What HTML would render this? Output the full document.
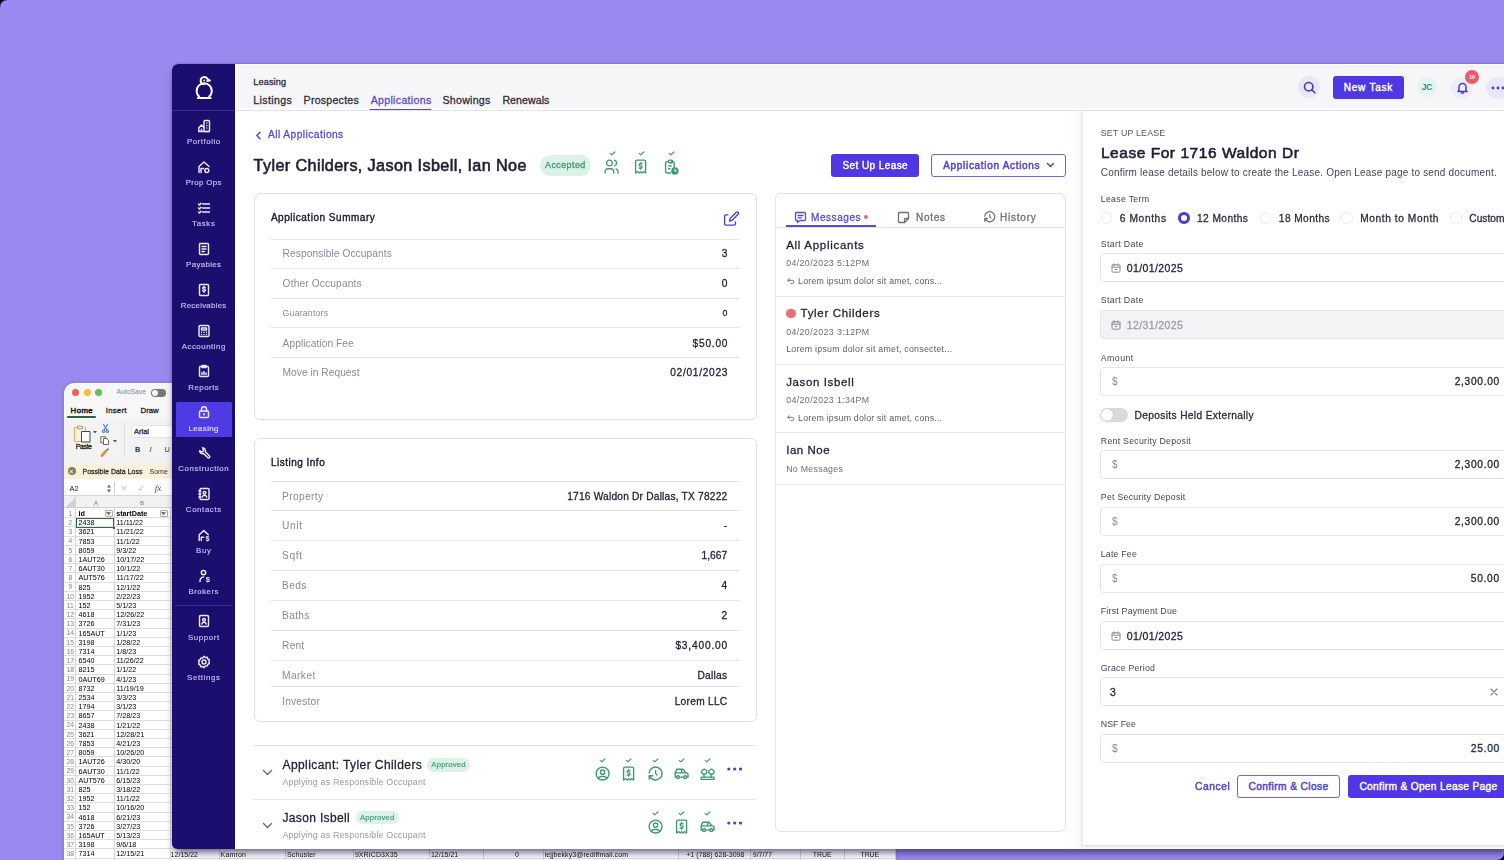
<!DOCTYPE html>
<html><head><meta charset="utf-8"><title>Leasing - Applications</title><style>
*{box-sizing:border-box;margin:0;padding:0}
html,body{width:1504px;height:860px;overflow:hidden}
body{background:#9a8af0;font-family:"Liberation Sans",sans-serif;position:relative;color:#1f1e33}
.a{position:absolute;white-space:nowrap}
.b{position:absolute}
svg{display:block}
</style></head><body><div id="root" style="position:absolute;left:0;top:0;width:1504px;height:860px;overflow:hidden;filter:blur(0.3px)"><div class="b" style="left:63.7px;top:383px;width:831.3px;height:480px;background:#fff;border-radius:10px 10px 0 0;box-shadow:0 0 3px 1px rgba(60,40,140,.18)"></div>
<div class="b" style="left:64.5px;top:383.8px;width:830px;height:35.2px;background:#f7f7f7;border-radius:9.5px 9.5px 0 0"></div>
<div class="b" style="left:71.5px;top:389px;width:7px;height:7px;background:#ec5f58;border-radius:50%"></div>
<div class="b" style="left:83.5px;top:389px;width:7px;height:7px;background:#f5bd3a;border-radius:50%"></div>
<div class="b" style="left:95.0px;top:389px;width:7px;height:7px;background:#5fc454;border-radius:50%"></div>
<div class="a " style="top:389.44px;font-size:6.8px;line-height:6.8px;color:#8a8a8a;font-weight:400;left:116.5px;">AutoSave</div>
<div class="b" style="left:151px;top:388.5px;width:15px;height:8px;background:#777;border-radius:4px"></div>
<div class="b" style="left:152px;top:389.5px;width:6px;height:6px;background:#fff;border-radius:50%"></div>
<div class="a " id="t1" style="top:406.70px;font-size:7.8px;line-height:7.8px;color:#1a1a1a;font-weight:400;-webkit-text-stroke:0.5px #1a1a1a;letter-spacing:0.434px;left:70.6px;">Home</div>
<div class="b" style="left:67px;top:416.3px;width:29px;height:1.5px;background:#2d6040;border-radius:1px"></div>
<div class="a " id="t2" style="top:406.70px;font-size:7.8px;line-height:7.8px;color:#1a1a1a;font-weight:400;-webkit-text-stroke:0.28px #1a1a1a;letter-spacing:0.219px;left:105.8px;">Insert</div>
<div class="a " style="top:406.70px;font-size:7.8px;line-height:7.8px;color:#1a1a1a;font-weight:400;-webkit-text-stroke:0.28px #1a1a1a;left:140.5px;">Draw</div>
<div class="b" style="left:64px;top:419px;width:831px;height:44px;background:#f3f3f3"></div>
<div class="b" style="left:72.5px;top:423.5px;"><svg width="18" height="19" viewBox="0 0 18 19" fill="none" stroke-linejoin="round"><path d="M3.5 3.5H1.5V17.5H9" stroke="#d9b46a" stroke-width="1.1" fill="#fbf0d8"/><path d="M4.5 2.2h5v2.6h-5z" stroke="#a08a60" stroke-width="0.9" fill="#f4f4f4"/><path d="M11.5 3.5h1v4" stroke="#d9b46a" stroke-width="1.1"/><path d="M8.5 7.5h8.5v10.5H8.5z" stroke="#444" stroke-width="1" fill="#fff"/></svg></div>
<div class="b" style="left:93px;top:431px;"><svg width="4" height="3" viewBox="0 0 4 3"><path d="M0 0h4L2 2.5z" fill="#555"/></svg></div>
<div class="a " id="t3" style="top:443.54px;font-size:6.8px;line-height:6.8px;color:#222;font-weight:400;-webkit-text-stroke:0.28px #222;letter-spacing:-0.348px;left:75.8px;">Paste</div>
<div class="b" style="left:101.5px;top:424px;"><svg width="7" height="9" viewBox="0 0 7 9" fill="none" stroke="#4a86c8" stroke-width="1.1" stroke-linecap="round"><path d="M1.5 0.5L5 6M5.5 0.5L2 6"/><circle cx="1.7" cy="7.2" r="1.2"/><circle cx="5.3" cy="7.2" r="1.2"/></svg></div>
<div class="b" style="left:100px;top:436px;"><svg width="10" height="9" viewBox="0 0 10 9" fill="none" stroke="#555" stroke-width="0.9"><path d="M0.8 0.8h4.5v6H0.8z" fill="#fff"/><path d="M3.5 2.5h3.2l1.8 1.8v4.2h-5z" fill="#fff"/></svg></div>
<div class="b" style="left:113px;top:439.6px;"><svg width="4" height="3" viewBox="0 0 4 3"><path d="M0 0h4L2 2.5z" fill="#555"/></svg></div>
<div class="b" style="left:100px;top:448.2px;"><svg width="9" height="9" viewBox="0 0 9 9" fill="none" stroke-linecap="round"><path d="M8 1L5 4" stroke="#555" stroke-width="1.2"/><path d="M5.5 3.5L2 7.5" stroke="#e09a3a" stroke-width="3"/></svg></div>
<div class="b" style="left:123.6px;top:423px;width:0.8px;height:33px;background:#dcdcdc"></div>
<div class="b" style="left:130.6px;top:425px;width:45px;height:12.5px;background:#fff;border:0.8px solid #e4e4e4;border-radius:2px"></div>
<div class="a " id="t4" style="top:428.34px;font-size:7.4px;line-height:7.4px;color:#222;font-weight:400;-webkit-text-stroke:0.28px #222;letter-spacing:0.079px;left:133.9px;">Arial</div>
<div class="a " style="top:445.54px;font-size:7.4px;line-height:7.4px;color:#333;font-weight:700;left:134.9px;">B</div>
<div class="a " style="top:445.54px;font-size:7.4px;line-height:7.4px;color:#333;font-weight:400;left:149.5px;font-style:italic">I</div>
<div class="a " style="top:445.54px;font-size:7.4px;line-height:7.4px;color:#333;font-weight:400;left:164.4px;">U</div>
<div class="b" style="left:64px;top:463px;width:831px;height:16px;background:#f9f1dc"></div>
<div class="b" style="left:68px;top:467px;width:8px;height:8px;background:#8a7a62;border-radius:50%"></div>
<div class="a " style="top:467.67px;font-size:7px;line-height:7px;color:#f9f1dc;font-weight:700;left:69.3px;">&#215;</div>
<div class="a " style="top:468.27px;font-size:7px;line-height:7px;color:#333;font-weight:400;-webkit-text-stroke:0.28px #333;left:82.5px;">Possible Data Loss</div>
<div class="a " style="top:468.27px;font-size:7px;line-height:7px;color:#333;font-weight:400;left:149.5px;">Some</div>
<div class="b" style="left:64px;top:479px;width:831px;height:17px;background:#fff;border-bottom:1px solid #d8d8d8"></div>
<div class="a " style="top:484.74px;font-size:7.4px;line-height:7.4px;color:#222;font-weight:400;left:69.5px;">A2</div>
<div class="b" style="left:106.5px;top:483.5px;"><svg width="4" height="9" viewBox="0 0 4 9"><path d="M0 3.5L2 0.5L4 3.5zM0 5.5L2 8.5L4 5.5z" fill="#666"/></svg></div>
<div class="b" style="left:113.5px;top:481px;width:0.8px;height:14px;background:#d8d8d8"></div>
<div class="a " style="top:482.99px;font-size:11px;line-height:11px;color:#c8c8c8;font-weight:400;left:120.8px;">&#215;</div>
<div class="a " style="top:483.96px;font-size:9.5px;line-height:9.5px;color:#c8c8c8;font-weight:400;left:136.8px;">&#10003;</div>
<div class="a " style="top:484.38px;font-size:9px;line-height:9px;color:#444;font-weight:400;left:154.8px;font-style:italic;font-family:Liberation Serif">fx</div>
<div class="b" style="left:64px;top:496px;width:831px;height:12px;background:#f1f1f1;border-bottom:1px solid #d0d0d0"></div>
<div class="a " style="top:499.92px;font-size:6px;line-height:6px;color:#777;font-weight:400;left:94px;">A</div>
<div class="a " style="top:499.92px;font-size:6px;line-height:6px;color:#777;font-weight:400;left:140px;">B</div>
<div class="b" style="left:75px;top:496px;width:1px;height:364px;background:#d8d8d8"></div>
<div class="b" style="left:65.5px;top:498px;"><svg width="9" height="9" viewBox="0 0 9 9"><path d="M9 0V9H0z" fill="#d0d0d0"/></svg></div>
<div class="b" style="left:64px;top:517.2px;width:831px;height:0.6px;background:#dedede"></div>
<div class="a " style="top:510.84px;font-size:6.8px;line-height:6.8px;color:#8a8a8a;font-weight:400;left:64.3px;width:12px;text-align:center;">1</div>
<div class="a " style="top:510.01px;font-size:7.2px;line-height:7.2px;color:#000;font-weight:700;left:78.4px;">id</div>
<div class="a " style="top:510.01px;font-size:7.2px;line-height:7.2px;color:#000;font-weight:700;left:116.2px;">startDate</div>
<div class="b" style="left:64px;top:526.4000000000001px;width:831px;height:0.6px;background:#dedede"></div>
<div class="a " style="top:520.04px;font-size:6.8px;line-height:6.8px;color:#8a8a8a;font-weight:400;left:64.3px;width:12px;text-align:center;">2</div>
<div class="a " style="top:519.21px;font-size:7.2px;line-height:7.2px;color:#000;font-weight:400;left:78.4px;">2438</div>
<div class="a " style="top:519.21px;font-size:7.2px;line-height:7.2px;color:#000;font-weight:400;left:116.2px;">11/11/22</div>
<div class="b" style="left:64px;top:535.6px;width:831px;height:0.6px;background:#dedede"></div>
<div class="a " style="top:529.24px;font-size:6.8px;line-height:6.8px;color:#8a8a8a;font-weight:400;left:64.3px;width:12px;text-align:center;">3</div>
<div class="a " style="top:528.41px;font-size:7.2px;line-height:7.2px;color:#000;font-weight:400;left:78.4px;">3621</div>
<div class="a " style="top:528.41px;font-size:7.2px;line-height:7.2px;color:#000;font-weight:400;left:116.2px;">11/21/22</div>
<div class="b" style="left:64px;top:544.8000000000001px;width:831px;height:0.6px;background:#dedede"></div>
<div class="a " style="top:538.44px;font-size:6.8px;line-height:6.8px;color:#8a8a8a;font-weight:400;left:64.3px;width:12px;text-align:center;">4</div>
<div class="a " style="top:537.61px;font-size:7.2px;line-height:7.2px;color:#000;font-weight:400;left:78.4px;">7853</div>
<div class="a " style="top:537.61px;font-size:7.2px;line-height:7.2px;color:#000;font-weight:400;left:116.2px;">11/1/22</div>
<div class="b" style="left:64px;top:554.0px;width:831px;height:0.6px;background:#dedede"></div>
<div class="a " style="top:547.64px;font-size:6.8px;line-height:6.8px;color:#8a8a8a;font-weight:400;left:64.3px;width:12px;text-align:center;">5</div>
<div class="a " style="top:546.81px;font-size:7.2px;line-height:7.2px;color:#000;font-weight:400;left:78.4px;">8059</div>
<div class="a " style="top:546.81px;font-size:7.2px;line-height:7.2px;color:#000;font-weight:400;left:116.2px;">9/3/22</div>
<div class="b" style="left:64px;top:563.2px;width:831px;height:0.6px;background:#dedede"></div>
<div class="a " style="top:556.84px;font-size:6.8px;line-height:6.8px;color:#8a8a8a;font-weight:400;left:64.3px;width:12px;text-align:center;">6</div>
<div class="a " style="top:556.01px;font-size:7.2px;line-height:7.2px;color:#000;font-weight:400;left:78.4px;">1AUT26</div>
<div class="a " style="top:556.01px;font-size:7.2px;line-height:7.2px;color:#000;font-weight:400;left:116.2px;">10/17/22</div>
<div class="b" style="left:64px;top:572.4000000000001px;width:831px;height:0.6px;background:#dedede"></div>
<div class="a " style="top:566.04px;font-size:6.8px;line-height:6.8px;color:#8a8a8a;font-weight:400;left:64.3px;width:12px;text-align:center;">7</div>
<div class="a " style="top:565.21px;font-size:7.2px;line-height:7.2px;color:#000;font-weight:400;left:78.4px;">6AUT30</div>
<div class="a " style="top:565.21px;font-size:7.2px;line-height:7.2px;color:#000;font-weight:400;left:116.2px;">10/1/22</div>
<div class="b" style="left:64px;top:581.6px;width:831px;height:0.6px;background:#dedede"></div>
<div class="a " style="top:575.24px;font-size:6.8px;line-height:6.8px;color:#8a8a8a;font-weight:400;left:64.3px;width:12px;text-align:center;">8</div>
<div class="a " style="top:574.41px;font-size:7.2px;line-height:7.2px;color:#000;font-weight:400;left:78.4px;">AUT576</div>
<div class="a " style="top:574.41px;font-size:7.2px;line-height:7.2px;color:#000;font-weight:400;left:116.2px;">11/17/22</div>
<div class="b" style="left:64px;top:590.8000000000001px;width:831px;height:0.6px;background:#dedede"></div>
<div class="a " style="top:584.44px;font-size:6.8px;line-height:6.8px;color:#8a8a8a;font-weight:400;left:64.3px;width:12px;text-align:center;">9</div>
<div class="a " style="top:583.61px;font-size:7.2px;line-height:7.2px;color:#000;font-weight:400;left:78.4px;">825</div>
<div class="a " style="top:583.61px;font-size:7.2px;line-height:7.2px;color:#000;font-weight:400;left:116.2px;">12/1/22</div>
<div class="b" style="left:64px;top:600.0px;width:831px;height:0.6px;background:#dedede"></div>
<div class="a " style="top:593.64px;font-size:6.8px;line-height:6.8px;color:#8a8a8a;font-weight:400;left:64.3px;width:12px;text-align:center;">10</div>
<div class="a " style="top:592.81px;font-size:7.2px;line-height:7.2px;color:#000;font-weight:400;left:78.4px;">1952</div>
<div class="a " style="top:592.81px;font-size:7.2px;line-height:7.2px;color:#000;font-weight:400;left:116.2px;">2/22/23</div>
<div class="b" style="left:64px;top:609.2px;width:831px;height:0.6px;background:#dedede"></div>
<div class="a " style="top:602.84px;font-size:6.8px;line-height:6.8px;color:#8a8a8a;font-weight:400;left:64.3px;width:12px;text-align:center;">11</div>
<div class="a " style="top:602.01px;font-size:7.2px;line-height:7.2px;color:#000;font-weight:400;left:78.4px;">152</div>
<div class="a " style="top:602.01px;font-size:7.2px;line-height:7.2px;color:#000;font-weight:400;left:116.2px;">5/1/23</div>
<div class="b" style="left:64px;top:618.4000000000001px;width:831px;height:0.6px;background:#dedede"></div>
<div class="a " style="top:612.04px;font-size:6.8px;line-height:6.8px;color:#8a8a8a;font-weight:400;left:64.3px;width:12px;text-align:center;">12</div>
<div class="a " style="top:611.21px;font-size:7.2px;line-height:7.2px;color:#000;font-weight:400;left:78.4px;">4618</div>
<div class="a " style="top:611.21px;font-size:7.2px;line-height:7.2px;color:#000;font-weight:400;left:116.2px;">12/26/22</div>
<div class="b" style="left:64px;top:627.6px;width:831px;height:0.6px;background:#dedede"></div>
<div class="a " style="top:621.24px;font-size:6.8px;line-height:6.8px;color:#8a8a8a;font-weight:400;left:64.3px;width:12px;text-align:center;">13</div>
<div class="a " style="top:620.41px;font-size:7.2px;line-height:7.2px;color:#000;font-weight:400;left:78.4px;">3726</div>
<div class="a " style="top:620.41px;font-size:7.2px;line-height:7.2px;color:#000;font-weight:400;left:116.2px;">7/31/23</div>
<div class="b" style="left:64px;top:636.8000000000001px;width:831px;height:0.6px;background:#dedede"></div>
<div class="a " style="top:630.44px;font-size:6.8px;line-height:6.8px;color:#8a8a8a;font-weight:400;left:64.3px;width:12px;text-align:center;">14</div>
<div class="a " style="top:629.61px;font-size:7.2px;line-height:7.2px;color:#000;font-weight:400;left:78.4px;">165AUT</div>
<div class="a " style="top:629.61px;font-size:7.2px;line-height:7.2px;color:#000;font-weight:400;left:116.2px;">1/1/23</div>
<div class="b" style="left:64px;top:646.0px;width:831px;height:0.6px;background:#dedede"></div>
<div class="a " style="top:639.64px;font-size:6.8px;line-height:6.8px;color:#8a8a8a;font-weight:400;left:64.3px;width:12px;text-align:center;">15</div>
<div class="a " style="top:638.81px;font-size:7.2px;line-height:7.2px;color:#000;font-weight:400;left:78.4px;">3198</div>
<div class="a " style="top:638.81px;font-size:7.2px;line-height:7.2px;color:#000;font-weight:400;left:116.2px;">1/28/22</div>
<div class="b" style="left:64px;top:655.2px;width:831px;height:0.6px;background:#dedede"></div>
<div class="a " style="top:648.84px;font-size:6.8px;line-height:6.8px;color:#8a8a8a;font-weight:400;left:64.3px;width:12px;text-align:center;">16</div>
<div class="a " style="top:648.01px;font-size:7.2px;line-height:7.2px;color:#000;font-weight:400;left:78.4px;">7314</div>
<div class="a " style="top:648.01px;font-size:7.2px;line-height:7.2px;color:#000;font-weight:400;left:116.2px;">1/8/23</div>
<div class="b" style="left:64px;top:664.4000000000001px;width:831px;height:0.6px;background:#dedede"></div>
<div class="a " style="top:658.04px;font-size:6.8px;line-height:6.8px;color:#8a8a8a;font-weight:400;left:64.3px;width:12px;text-align:center;">17</div>
<div class="a " style="top:657.21px;font-size:7.2px;line-height:7.2px;color:#000;font-weight:400;left:78.4px;">6540</div>
<div class="a " style="top:657.21px;font-size:7.2px;line-height:7.2px;color:#000;font-weight:400;left:116.2px;">11/26/22</div>
<div class="b" style="left:64px;top:673.6px;width:831px;height:0.6px;background:#dedede"></div>
<div class="a " style="top:667.24px;font-size:6.8px;line-height:6.8px;color:#8a8a8a;font-weight:400;left:64.3px;width:12px;text-align:center;">18</div>
<div class="a " style="top:666.41px;font-size:7.2px;line-height:7.2px;color:#000;font-weight:400;left:78.4px;">8215</div>
<div class="a " style="top:666.41px;font-size:7.2px;line-height:7.2px;color:#000;font-weight:400;left:116.2px;">1/1/22</div>
<div class="b" style="left:64px;top:682.8000000000001px;width:831px;height:0.6px;background:#dedede"></div>
<div class="a " style="top:676.44px;font-size:6.8px;line-height:6.8px;color:#8a8a8a;font-weight:400;left:64.3px;width:12px;text-align:center;">19</div>
<div class="a " style="top:675.61px;font-size:7.2px;line-height:7.2px;color:#000;font-weight:400;left:78.4px;">0AUT69</div>
<div class="a " style="top:675.61px;font-size:7.2px;line-height:7.2px;color:#000;font-weight:400;left:116.2px;">4/1/23</div>
<div class="b" style="left:64px;top:692.0px;width:831px;height:0.6px;background:#dedede"></div>
<div class="a " style="top:685.64px;font-size:6.8px;line-height:6.8px;color:#8a8a8a;font-weight:400;left:64.3px;width:12px;text-align:center;">20</div>
<div class="a " style="top:684.81px;font-size:7.2px;line-height:7.2px;color:#000;font-weight:400;left:78.4px;">8732</div>
<div class="a " style="top:684.81px;font-size:7.2px;line-height:7.2px;color:#000;font-weight:400;left:116.2px;">11/19/19</div>
<div class="b" style="left:64px;top:701.2px;width:831px;height:0.6px;background:#dedede"></div>
<div class="a " style="top:694.84px;font-size:6.8px;line-height:6.8px;color:#8a8a8a;font-weight:400;left:64.3px;width:12px;text-align:center;">21</div>
<div class="a " style="top:694.01px;font-size:7.2px;line-height:7.2px;color:#000;font-weight:400;left:78.4px;">2534</div>
<div class="a " style="top:694.01px;font-size:7.2px;line-height:7.2px;color:#000;font-weight:400;left:116.2px;">3/3/23</div>
<div class="b" style="left:64px;top:710.4000000000001px;width:831px;height:0.6px;background:#dedede"></div>
<div class="a " style="top:704.04px;font-size:6.8px;line-height:6.8px;color:#8a8a8a;font-weight:400;left:64.3px;width:12px;text-align:center;">22</div>
<div class="a " style="top:703.21px;font-size:7.2px;line-height:7.2px;color:#000;font-weight:400;left:78.4px;">1794</div>
<div class="a " style="top:703.21px;font-size:7.2px;line-height:7.2px;color:#000;font-weight:400;left:116.2px;">3/1/23</div>
<div class="b" style="left:64px;top:719.6px;width:831px;height:0.6px;background:#dedede"></div>
<div class="a " style="top:713.24px;font-size:6.8px;line-height:6.8px;color:#8a8a8a;font-weight:400;left:64.3px;width:12px;text-align:center;">23</div>
<div class="a " style="top:712.41px;font-size:7.2px;line-height:7.2px;color:#000;font-weight:400;left:78.4px;">8657</div>
<div class="a " style="top:712.41px;font-size:7.2px;line-height:7.2px;color:#000;font-weight:400;left:116.2px;">7/28/23</div>
<div class="b" style="left:64px;top:728.8000000000001px;width:831px;height:0.6px;background:#dedede"></div>
<div class="a " style="top:722.44px;font-size:6.8px;line-height:6.8px;color:#8a8a8a;font-weight:400;left:64.3px;width:12px;text-align:center;">24</div>
<div class="a " style="top:721.61px;font-size:7.2px;line-height:7.2px;color:#000;font-weight:400;left:78.4px;">2438</div>
<div class="a " style="top:721.61px;font-size:7.2px;line-height:7.2px;color:#000;font-weight:400;left:116.2px;">1/21/22</div>
<div class="b" style="left:64px;top:738.0px;width:831px;height:0.6px;background:#dedede"></div>
<div class="a " style="top:731.64px;font-size:6.8px;line-height:6.8px;color:#8a8a8a;font-weight:400;left:64.3px;width:12px;text-align:center;">25</div>
<div class="a " style="top:730.81px;font-size:7.2px;line-height:7.2px;color:#000;font-weight:400;left:78.4px;">3621</div>
<div class="a " style="top:730.81px;font-size:7.2px;line-height:7.2px;color:#000;font-weight:400;left:116.2px;">12/28/21</div>
<div class="b" style="left:64px;top:747.2px;width:831px;height:0.6px;background:#dedede"></div>
<div class="a " style="top:740.84px;font-size:6.8px;line-height:6.8px;color:#8a8a8a;font-weight:400;left:64.3px;width:12px;text-align:center;">26</div>
<div class="a " style="top:740.01px;font-size:7.2px;line-height:7.2px;color:#000;font-weight:400;left:78.4px;">7853</div>
<div class="a " style="top:740.01px;font-size:7.2px;line-height:7.2px;color:#000;font-weight:400;left:116.2px;">4/21/23</div>
<div class="b" style="left:64px;top:756.4000000000001px;width:831px;height:0.6px;background:#dedede"></div>
<div class="a " style="top:750.04px;font-size:6.8px;line-height:6.8px;color:#8a8a8a;font-weight:400;left:64.3px;width:12px;text-align:center;">27</div>
<div class="a " style="top:749.21px;font-size:7.2px;line-height:7.2px;color:#000;font-weight:400;left:78.4px;">8059</div>
<div class="a " style="top:749.21px;font-size:7.2px;line-height:7.2px;color:#000;font-weight:400;left:116.2px;">10/26/20</div>
<div class="b" style="left:64px;top:765.6px;width:831px;height:0.6px;background:#dedede"></div>
<div class="a " style="top:759.24px;font-size:6.8px;line-height:6.8px;color:#8a8a8a;font-weight:400;left:64.3px;width:12px;text-align:center;">28</div>
<div class="a " style="top:758.41px;font-size:7.2px;line-height:7.2px;color:#000;font-weight:400;left:78.4px;">1AUT26</div>
<div class="a " style="top:758.41px;font-size:7.2px;line-height:7.2px;color:#000;font-weight:400;left:116.2px;">4/30/20</div>
<div class="b" style="left:64px;top:774.8px;width:831px;height:0.6px;background:#dedede"></div>
<div class="a " style="top:768.44px;font-size:6.8px;line-height:6.8px;color:#8a8a8a;font-weight:400;left:64.3px;width:12px;text-align:center;">29</div>
<div class="a " style="top:767.61px;font-size:7.2px;line-height:7.2px;color:#000;font-weight:400;left:78.4px;">6AUT30</div>
<div class="a " style="top:767.61px;font-size:7.2px;line-height:7.2px;color:#000;font-weight:400;left:116.2px;">11/1/22</div>
<div class="b" style="left:64px;top:784.0px;width:831px;height:0.6px;background:#dedede"></div>
<div class="a " style="top:777.64px;font-size:6.8px;line-height:6.8px;color:#8a8a8a;font-weight:400;left:64.3px;width:12px;text-align:center;">30</div>
<div class="a " style="top:776.81px;font-size:7.2px;line-height:7.2px;color:#000;font-weight:400;left:78.4px;">AUT576</div>
<div class="a " style="top:776.81px;font-size:7.2px;line-height:7.2px;color:#000;font-weight:400;left:116.2px;">6/15/23</div>
<div class="b" style="left:64px;top:793.2px;width:831px;height:0.6px;background:#dedede"></div>
<div class="a " style="top:786.84px;font-size:6.8px;line-height:6.8px;color:#8a8a8a;font-weight:400;left:64.3px;width:12px;text-align:center;">31</div>
<div class="a " style="top:786.01px;font-size:7.2px;line-height:7.2px;color:#000;font-weight:400;left:78.4px;">825</div>
<div class="a " style="top:786.01px;font-size:7.2px;line-height:7.2px;color:#000;font-weight:400;left:116.2px;">3/18/22</div>
<div class="b" style="left:64px;top:802.4000000000001px;width:831px;height:0.6px;background:#dedede"></div>
<div class="a " style="top:796.04px;font-size:6.8px;line-height:6.8px;color:#8a8a8a;font-weight:400;left:64.3px;width:12px;text-align:center;">32</div>
<div class="a " style="top:795.21px;font-size:7.2px;line-height:7.2px;color:#000;font-weight:400;left:78.4px;">1952</div>
<div class="a " style="top:795.21px;font-size:7.2px;line-height:7.2px;color:#000;font-weight:400;left:116.2px;">11/1/22</div>
<div class="b" style="left:64px;top:811.6px;width:831px;height:0.6px;background:#dedede"></div>
<div class="a " style="top:805.24px;font-size:6.8px;line-height:6.8px;color:#8a8a8a;font-weight:400;left:64.3px;width:12px;text-align:center;">33</div>
<div class="a " style="top:804.41px;font-size:7.2px;line-height:7.2px;color:#000;font-weight:400;left:78.4px;">152</div>
<div class="a " style="top:804.41px;font-size:7.2px;line-height:7.2px;color:#000;font-weight:400;left:116.2px;">10/16/20</div>
<div class="b" style="left:64px;top:820.8px;width:831px;height:0.6px;background:#dedede"></div>
<div class="a " style="top:814.44px;font-size:6.8px;line-height:6.8px;color:#8a8a8a;font-weight:400;left:64.3px;width:12px;text-align:center;">34</div>
<div class="a " style="top:813.61px;font-size:7.2px;line-height:7.2px;color:#000;font-weight:400;left:78.4px;">4618</div>
<div class="a " style="top:813.61px;font-size:7.2px;line-height:7.2px;color:#000;font-weight:400;left:116.2px;">6/21/23</div>
<div class="b" style="left:64px;top:830.0px;width:831px;height:0.6px;background:#dedede"></div>
<div class="a " style="top:823.64px;font-size:6.8px;line-height:6.8px;color:#8a8a8a;font-weight:400;left:64.3px;width:12px;text-align:center;">35</div>
<div class="a " style="top:822.81px;font-size:7.2px;line-height:7.2px;color:#000;font-weight:400;left:78.4px;">3726</div>
<div class="a " style="top:822.81px;font-size:7.2px;line-height:7.2px;color:#000;font-weight:400;left:116.2px;">3/27/23</div>
<div class="b" style="left:64px;top:839.2px;width:831px;height:0.6px;background:#dedede"></div>
<div class="a " style="top:832.84px;font-size:6.8px;line-height:6.8px;color:#8a8a8a;font-weight:400;left:64.3px;width:12px;text-align:center;">36</div>
<div class="a " style="top:832.01px;font-size:7.2px;line-height:7.2px;color:#000;font-weight:400;left:78.4px;">165AUT</div>
<div class="a " style="top:832.01px;font-size:7.2px;line-height:7.2px;color:#000;font-weight:400;left:116.2px;">5/13/23</div>
<div class="b" style="left:64px;top:848.4000000000001px;width:831px;height:0.6px;background:#dedede"></div>
<div class="a " style="top:842.04px;font-size:6.8px;line-height:6.8px;color:#8a8a8a;font-weight:400;left:64.3px;width:12px;text-align:center;">37</div>
<div class="a " style="top:841.21px;font-size:7.2px;line-height:7.2px;color:#000;font-weight:400;left:78.4px;">3198</div>
<div class="a " style="top:841.21px;font-size:7.2px;line-height:7.2px;color:#000;font-weight:400;left:116.2px;">9/6/18</div>
<div class="b" style="left:64px;top:857.6px;width:831px;height:0.6px;background:#dedede"></div>
<div class="a " style="top:851.24px;font-size:6.8px;line-height:6.8px;color:#8a8a8a;font-weight:400;left:64.3px;width:12px;text-align:center;">38</div>
<div class="a " style="top:850.41px;font-size:7.2px;line-height:7.2px;color:#000;font-weight:400;left:78.4px;">7314</div>
<div class="a " style="top:850.41px;font-size:7.2px;line-height:7.2px;color:#000;font-weight:400;left:116.2px;">12/15/21</div>
<div class="b" style="left:113.5px;top:508px;width:0.7px;height:352px;background:#d6d6d6"></div>
<div class="b" style="left:169.5px;top:508px;width:0.7px;height:352px;background:#d6d6d6"></div>
<div class="b" style="left:104.5px;top:509.8px;width:8px;height:7.6px;background:#f6f6f6;border:0.8px solid #b0b0b0;border-radius:1px"></div>
<div class="b" style="left:106.3px;top:512px;"><svg width="5" height="3.5" viewBox="0 0 5 3.5"><path d="M0 0h5L2.5 3.5z" fill="#777"/></svg></div>
<div class="b" style="left:159.5px;top:509.8px;width:8px;height:7.6px;background:#f6f6f6;border:0.8px solid #b0b0b0;border-radius:1px"></div>
<div class="b" style="left:161.3px;top:512px;"><svg width="5" height="3.5" viewBox="0 0 5 3.5"><path d="M0 0h5L2.5 3.5z" fill="#777"/></svg></div>
<div class="b" style="left:76px;top:518px;width:38px;height:10px;border:1.3px solid #2a6e48"></div>
<div class="b" style="left:112.8px;top:526.8px;width:2.5px;height:2.5px;background:#2a6e48"></div>
<div class="a " id="t5" style="top:850.67px;font-size:7px;line-height:7px;color:#111;font-weight:400;letter-spacing:0.020px;left:170.6px;">12/15/22</div>
<div class="a " id="t6" style="top:850.67px;font-size:7px;line-height:7px;color:#111;font-weight:400;letter-spacing:0.157px;left:220.6px;">Kamron</div>
<div class="a " id="t7" style="top:850.67px;font-size:7px;line-height:7px;color:#111;font-weight:400;letter-spacing:0.137px;left:287px;">Schuster</div>
<div class="a " id="t8" style="top:850.67px;font-size:7px;line-height:7px;color:#111;font-weight:400;letter-spacing:0.075px;left:354.9px;">9XRICD3X35</div>
<div class="a " id="t9" style="top:850.67px;font-size:7px;line-height:7px;color:#111;font-weight:400;letter-spacing:0.007px;left:430.9px;">12/15/21</div>
<div class="a " style="top:850.67px;font-size:7px;line-height:7px;color:#111;font-weight:400;left:514.9px;">0</div>
<div class="a " id="t10" style="top:850.67px;font-size:7px;line-height:7px;color:#111;font-weight:400;letter-spacing:0.084px;left:544.7px;">iejjbekky3@rediffmail.com</div>
<div class="a " id="t11" style="top:850.67px;font-size:7px;line-height:7px;color:#111;font-weight:400;letter-spacing:0.024px;left:686.2px;">+1 (788) 628-3098</div>
<div class="a " id="t12" style="top:850.67px;font-size:7px;line-height:7px;color:#111;font-weight:400;letter-spacing:-0.033px;left:752.8px;">9/7/77</div>
<div class="a " id="t13" style="top:850.67px;font-size:7px;line-height:7px;color:#111;font-weight:400;letter-spacing:-0.054px;left:812.8px;">TRUE</div>
<div class="a " id="t14" style="top:850.67px;font-size:7px;line-height:7px;color:#111;font-weight:400;letter-spacing:-0.190px;left:860.6px;">TRUE</div>
<div class="b" style="left:219px;top:849px;width:0.7px;height:11px;background:#d6d6d6"></div>
<div class="b" style="left:285px;top:849px;width:0.7px;height:11px;background:#d6d6d6"></div>
<div class="b" style="left:352.5px;top:849px;width:0.7px;height:11px;background:#d6d6d6"></div>
<div class="b" style="left:428.5px;top:849px;width:0.7px;height:11px;background:#d6d6d6"></div>
<div class="b" style="left:483px;top:849px;width:0.7px;height:11px;background:#d6d6d6"></div>
<div class="b" style="left:542.5px;top:849px;width:0.7px;height:11px;background:#d6d6d6"></div>
<div class="b" style="left:677.7px;top:849px;width:0.7px;height:11px;background:#d6d6d6"></div>
<div class="b" style="left:750px;top:849px;width:0.7px;height:11px;background:#d6d6d6"></div>
<div class="b" style="left:800px;top:849px;width:0.7px;height:11px;background:#d6d6d6"></div>
<div class="b" style="left:843.6px;top:849px;width:0.7px;height:11px;background:#d6d6d6"></div>
<div class="b" style="left:895px;top:849px;width:0.7px;height:11px;background:#d6d6d6"></div>
<div class="b" style="left:172px;top:64px;width:1340px;height:785px;background:#fff;border-radius:6px 0 0 5px;box-shadow:0 6px 8px -3px rgba(30,22,70,.75), 0 -1px 2px rgba(40,30,110,.18);z-index:0"></div>
<div class="b" style="left:172px;top:64px;width:63px;height:785px;background:#1a0e6f;border-radius:6px 0 0 5px"></div>
<div class="b" style="left:233.8px;top:64px;width:1.2px;height:785px;background:#140a5a"></div>
<div class="b" style="left:172px;top:109.5px;width:63px;height:1px;background:#3a2c90"></div>
<div class="b" style="left:191.5px;top:74px;"><svg width="24" height="26" viewBox="0 0 24 26" fill="none" stroke="#fff" stroke-width="2" stroke-linecap="round" stroke-linejoin="round">
<path d="M12.2 10.2A3.6 3.6 0 1 1 15.6 5.2L17.9 6.6L15.3 6.9"/><circle cx="12.2" cy="6.5" r="0.9" fill="#fff" stroke="none"/>
<path d="M7.2 22.6A7.6 7.6 0 1 1 17.2 22.6"/><path d="M5.8 23.9h12.8" stroke-width="2"/></svg></div>
<div class="b" style="left:196.5px;top:119.0px;"><svg width="14" height="14" viewBox="0 0 14 14" fill="none" stroke="#ece9ff" stroke-width="1.45" stroke-linecap="round" stroke-linejoin="round" ><rect x="7" y="1.5" width="5.5" height="11" rx="1"/><path d="M1.8 12.5V8.8L4.5 6L7 8.6"/><path d="M1.8 12.5H12.5"/><path d="M9.8 4h.1M9.8 6.5h.1M9.8 9h.1M4.5 10.3v2"/></svg></div>
<div class="a " id="t15" style="top:138.21px;font-size:7.9px;line-height:7.9px;color:#c6bff4;font-weight:400;-webkit-text-stroke:0.15px #c6bff4;letter-spacing:0.531px;text-indent:0.531px;left:172.0px;width:63px;text-align:center;">Portfolio</div>
<div class="b" style="left:196.5px;top:159.9px;"><svg width="14" height="14" viewBox="0 0 14 14" fill="none" stroke="#ece9ff" stroke-width="1.45" stroke-linecap="round" stroke-linejoin="round" ><path d="M2 12.5V6.5L7 2L12 6.5"/><path d="M4 12.5V8.5h2.5"/><circle cx="9.8" cy="10.5" r="2"/></svg></div>
<div class="a " id="t16" style="top:179.11px;font-size:7.9px;line-height:7.9px;color:#c6bff4;font-weight:400;-webkit-text-stroke:0.15px #c6bff4;letter-spacing:0.338px;text-indent:0.338px;left:172.0px;width:63px;text-align:center;">Prop Ops</div>
<div class="b" style="left:196.5px;top:200.8px;"><svg width="14" height="14" viewBox="0 0 14 14" fill="none" stroke="#ece9ff" stroke-width="1.45" stroke-linecap="round" stroke-linejoin="round" ><path d="M5.5 3h7M5.5 7h7M5.5 11h7"/><path d="M1.5 3l1 1 1.5-1.8M1.5 7l1 1 1.5-1.8M1.5 11l1 1 1.5-1.8"/></svg></div>
<div class="a " id="t17" style="top:220.01px;font-size:7.9px;line-height:7.9px;color:#c6bff4;font-weight:400;-webkit-text-stroke:0.15px #c6bff4;letter-spacing:0.655px;text-indent:0.655px;left:172.0px;width:63px;text-align:center;">Tasks</div>
<div class="b" style="left:196.5px;top:241.7px;"><svg width="14" height="14" viewBox="0 0 14 14" fill="none" stroke="#ece9ff" stroke-width="1.45" stroke-linecap="round" stroke-linejoin="round" ><rect x="2.5" y="1.5" width="9" height="11" rx="1"/><path d="M5 4.5h4M5 7h4M5 9.5h2.5"/></svg></div>
<div class="a " id="t18" style="top:260.91px;font-size:7.9px;line-height:7.9px;color:#c6bff4;font-weight:400;-webkit-text-stroke:0.15px #c6bff4;letter-spacing:0.347px;text-indent:0.347px;left:172.0px;width:63px;text-align:center;">Payables</div>
<div class="b" style="left:196.5px;top:282.6px;"><svg width="14" height="14" viewBox="0 0 14 14" fill="none" stroke="#ece9ff" stroke-width="1.45" stroke-linecap="round" stroke-linejoin="round" ><rect x="2.5" y="1.5" width="9" height="11" rx="1"/><path d="M8.3 4.8c-.3-.5-.8-.7-1.3-.7-.8 0-1.4.4-1.4 1s.6.9 1.4 1.1c.8.2 1.4.5 1.4 1.1s-.6 1-1.4 1c-.6 0-1.1-.3-1.4-.7M7 3.3v.8M7 8.4v.8"/></svg></div>
<div class="a " id="t19" style="top:301.81px;font-size:7.9px;line-height:7.9px;color:#c6bff4;font-weight:400;-webkit-text-stroke:0.15px #c6bff4;letter-spacing:0.250px;text-indent:0.250px;left:172.0px;width:63px;text-align:center;">Receivables</div>
<div class="b" style="left:196.5px;top:323.5px;"><svg width="14" height="14" viewBox="0 0 14 14" fill="none" stroke="#ece9ff" stroke-width="1.45" stroke-linecap="round" stroke-linejoin="round" ><rect x="2" y="1.5" width="10" height="11" rx="1.2"/><path d="M4.5 4h5v2h-5z"/><path d="M4.5 8.3h.1M7 8.3h.1M9.5 8.3h.1M4.5 10.5h.1M7 10.5h.1M9.5 10.5h.1"/></svg></div>
<div class="a " id="t20" style="top:342.71px;font-size:7.9px;line-height:7.9px;color:#c6bff4;font-weight:400;-webkit-text-stroke:0.15px #c6bff4;letter-spacing:0.505px;text-indent:0.505px;left:172.0px;width:63px;text-align:center;">Accounting</div>
<div class="b" style="left:196.5px;top:364.4px;"><svg width="14" height="14" viewBox="0 0 14 14" fill="none" stroke="#ece9ff" stroke-width="1.45" stroke-linecap="round" stroke-linejoin="round" ><rect x="2.5" y="2.5" width="9" height="10" rx="1"/><path d="M5 1.5h4v2H5z"/><path d="M5 10.5v-2M7 10.5V7.5M9 10.5V9"/></svg></div>
<div class="a " id="t21" style="top:383.61px;font-size:7.9px;line-height:7.9px;color:#c6bff4;font-weight:400;-webkit-text-stroke:0.15px #c6bff4;letter-spacing:0.493px;text-indent:0.493px;left:172.0px;width:63px;text-align:center;">Reports</div>
<div class="b" style="left:175.5px;top:402px;width:56.5px;height:35px;background:#4f3be4;border-radius:1.5px"></div>
<div class="b" style="left:196.5px;top:405.3px;"><svg width="14" height="14" viewBox="0 0 14 14" fill="none" stroke="#ece9ff" stroke-width="1.45" stroke-linecap="round" stroke-linejoin="round" ><rect x="2.5" y="6" width="9" height="6.5" rx="1"/><path d="M4.5 6V4.3a2.5 2.5 0 0 1 5 0V6"/><path d="M7 8.5v1.5"/></svg></div>
<div class="a " id="t22" style="top:424.51px;font-size:7.9px;line-height:7.9px;color:#e2deff;font-weight:400;-webkit-text-stroke:0.15px #e2deff;letter-spacing:0.375px;text-indent:0.375px;left:172.0px;width:63px;text-align:center;">Leasing</div>
<div class="b" style="left:196.5px;top:446.2px;"><svg width="14" height="14" viewBox="0 0 14 14" fill="none" stroke="#ece9ff" stroke-width="1.45" stroke-linecap="round" stroke-linejoin="round" ><g transform="translate(14,0) scale(-1,1)"><path d="M8.5 1.8a3 3 0 0 0-2.8 4l-4 4a1.2 1.2 0 0 0 1.7 1.7l4-4a3 3 0 0 0 4-2.8l-1.8 1.2-1.6-.4-.4-1.6z"/></g></svg></div>
<div class="a " id="t23" style="top:465.41px;font-size:7.9px;line-height:7.9px;color:#c6bff4;font-weight:400;-webkit-text-stroke:0.15px #c6bff4;letter-spacing:0.554px;text-indent:0.554px;left:172.0px;width:63px;text-align:center;">Construction</div>
<div class="b" style="left:196.5px;top:487.0999999999999px;"><svg width="14" height="14" viewBox="0 0 14 14" fill="none" stroke="#ece9ff" stroke-width="1.45" stroke-linecap="round" stroke-linejoin="round" ><rect x="3" y="1.5" width="9" height="11" rx="1"/><circle cx="7.5" cy="5.8" r="1.4"/><path d="M5.3 10c.4-1.2 1.2-1.8 2.2-1.8s1.8.6 2.2 1.8M1.8 4h2M1.8 7h2M1.8 10h2"/></svg></div>
<div class="a " id="t24" style="top:506.31px;font-size:7.9px;line-height:7.9px;color:#c6bff4;font-weight:400;-webkit-text-stroke:0.15px #c6bff4;letter-spacing:0.593px;text-indent:0.593px;left:172.0px;width:63px;text-align:center;">Contacts</div>
<div class="b" style="left:196.5px;top:528.0px;"><svg width="14" height="14" viewBox="0 0 14 14" fill="none" stroke="#ece9ff" stroke-width="1.45" stroke-linecap="round" stroke-linejoin="round" ><path d="M2.2 12.5V6.8L6.8 2.6L11.3 6.8"/><path d="M4.3 12.5V9.3h2.4"/></svg></div>
<div class="a " id="t25" style="top:547.21px;font-size:7.9px;line-height:7.9px;color:#c6bff4;font-weight:400;-webkit-text-stroke:0.15px #c6bff4;letter-spacing:0.646px;text-indent:0.646px;left:172.0px;width:63px;text-align:center;">Buy</div>
<div class="b" style="left:196.5px;top:568.9px;"><svg width="14" height="14" viewBox="0 0 14 14" fill="none" stroke="#ece9ff" stroke-width="1.45" stroke-linecap="round" stroke-linejoin="round" ><circle cx="6.5" cy="3.6" r="2.2"/><path d="M3 12.5c0-2.6 1.4-4.3 3.6-4.5"/></svg></div>
<div class="a " id="t26" style="top:588.11px;font-size:7.9px;line-height:7.9px;color:#c6bff4;font-weight:400;-webkit-text-stroke:0.15px #c6bff4;letter-spacing:0.484px;text-indent:0.484px;left:172.0px;width:63px;text-align:center;">Brokers</div>
<div class="a " style="top:534.71px;font-size:7.2px;line-height:7.2px;color:#ece9ff;font-weight:700;left:205.4px;">$</div>
<div class="a " style="top:575.77px;font-size:7.6px;line-height:7.6px;color:#ece9ff;font-weight:700;left:205.8px;">$</div>
<div class="b" style="left:174.5px;top:605px;width:57.5px;height:1px;background:#3a2c90"></div>
<div class="b" style="left:196.5px;top:614.3px;"><svg width="14" height="14" viewBox="0 0 14 14" fill="none" stroke="#ece9ff" stroke-width="1.45" stroke-linecap="round" stroke-linejoin="round" ><rect x="2.5" y="1.5" width="9" height="11" rx="1.2"/><circle cx="7" cy="5.8" r="1.4"/><path d="M4.8 10c.4-1.2 1.2-1.8 2.2-1.8s1.8.6 2.2 1.8"/></svg></div>
<div class="a " id="t27" style="top:633.51px;font-size:7.9px;line-height:7.9px;color:#c6bff4;font-weight:400;-webkit-text-stroke:0.15px #c6bff4;letter-spacing:0.593px;text-indent:0.593px;left:172.0px;width:63px;text-align:center;">Support</div>
<div class="b" style="left:196.5px;top:655.0px;"><svg width="14" height="14" viewBox="0 0 14 14" fill="none" stroke="#ece9ff" stroke-width="1.45" stroke-linecap="round" stroke-linejoin="round" ><path d="M7 1.3l1.4 1.2 1.8-.2.6 1.7 1.6.9-.5 1.8.5 1.8-1.6.9-.6 1.7-1.8-.2L7 12.7l-1.4-1.2-1.8.2-.6-1.7-1.6-.9.5-1.8-.5-1.8 1.6-.9.6-1.7 1.8.2z"/><circle cx="7" cy="7" r="2"/></svg></div>
<div class="a " id="t28" style="top:674.21px;font-size:7.9px;line-height:7.9px;color:#c6bff4;font-weight:400;-webkit-text-stroke:0.15px #c6bff4;letter-spacing:0.611px;text-indent:0.611px;left:172.0px;width:63px;text-align:center;">Settings</div>
<div class="b" style="left:235px;top:64px;width:1280px;height:46.5px;background:#fcfcfd;border-bottom:1px solid #e3e3ea"></div>
<div class="b" style="left:237.5px;top:66.3px;width:1280px;height:42.2px;background:#f6f6f8;border-top:1px solid #ededf0"></div>
<div class="a " id="t29" style="top:77.91px;font-size:9.2px;line-height:9.2px;color:#2b2a3c;font-weight:400;-webkit-text-stroke:0.28px #2b2a3c;letter-spacing:0.086px;left:253.3px;">Leasing</div>
<div class="a " id="t30" style="top:94.53px;font-size:10.6px;line-height:10.6px;color:#2b2a3c;font-weight:400;-webkit-text-stroke:0.28px #2b2a3c;letter-spacing:0.367px;left:253.3px;">Listings</div>
<div class="a " id="t31" style="top:94.53px;font-size:10.6px;line-height:10.6px;color:#2b2a3c;font-weight:400;-webkit-text-stroke:0.28px #2b2a3c;letter-spacing:0.244px;left:303.6px;">Prospectes</div>
<div class="a " id="t32" style="top:94.53px;font-size:10.6px;line-height:10.6px;color:#5a49d6;font-weight:400;-webkit-text-stroke:0.28px #5a49d6;letter-spacing:0.307px;left:370.7px;">Applications</div>
<div class="a " id="t33" style="top:94.53px;font-size:10.6px;line-height:10.6px;color:#2b2a3c;font-weight:400;-webkit-text-stroke:0.28px #2b2a3c;letter-spacing:0.265px;left:442.5px;">Showings</div>
<div class="a " id="t34" style="top:94.53px;font-size:10.6px;line-height:10.6px;color:#2b2a3c;font-weight:400;-webkit-text-stroke:0.28px #2b2a3c;letter-spacing:0.068px;left:502.4px;">Renewals</div>
<div class="b" style="left:369.8px;top:108.8px;width:61.2px;height:1.6px;background:#5a4ad2"></div>
<div class="b" style="left:1298px;top:76px;width:22px;height:22px;background:#e9e6fa;border-radius:50%"></div>
<div class="b" style="left:1302.5px;top:80.5px;"><svg width="13" height="13" viewBox="0 0 13 13" fill="none" stroke="#4a3bb8" stroke-width="1.6" stroke-linecap="round"><circle cx="5.7" cy="5.7" r="4.2"/><path d="M8.8 8.8L11.8 11.8"/></svg></div>
<div class="b" style="left:1332.5px;top:75.5px;width:71px;height:23.5px;background:#4f37e6;border-radius:3px"></div>
<div class="a " id="t35" style="top:82.53px;font-size:10px;line-height:10px;color:#fff;font-weight:400;-webkit-text-stroke:0.4px #fff;letter-spacing:0.760px;text-indent:0.760px;left:1332.5px;width:71px;text-align:center;">New Task</div>
<div class="b" style="left:1417px;top:77px;width:20px;height:20px;background:#e7f3f1;border-radius:50%"></div>
<div class="a " style="top:83.32px;font-size:8.6px;line-height:8.6px;color:#2e8f84;font-weight:700;left:1417.0px;width:20px;text-align:center;letter-spacing:-0.3px">JC</div>
<div class="b" style="left:1451px;top:76.5px;width:22px;height:22px;background:#eeedf8;border-radius:50%"></div>
<div class="b" style="left:1455.5px;top:80.5px;"><svg width="13" height="13" viewBox="0 0 13 13" fill="none" stroke="#4a33db" stroke-width="1.5" stroke-linecap="round" stroke-linejoin="round"><path d="M3 9.5V6a3.5 3.5 0 0 1 7 0v3.5l1 1H2z"/><path d="M5.5 12h2"/></svg></div>
<div class="b" style="left:1465px;top:70px;width:14px;height:14px;background:#f0566e;border-radius:50%"></div>
<div class="a " style="top:74.64px;font-size:5.5px;line-height:5.5px;color:#fff;font-weight:700;left:1465.0px;width:14px;text-align:center;">10</div>
<div class="b" style="left:1485.5px;top:77px;width:24px;height:22px;background:#e9e6fa;border-radius:50%"></div>
<div class="b" style="left:1490.5px;top:86px;"><svg width="14" height="4" viewBox="0 0 14 4" fill="#4a3bc8"><circle cx="2" cy="2" r="1.4"/><circle cx="7" cy="2" r="1.4"/><circle cx="12" cy="2" r="1.4"/></svg></div>
<div class="b" style="left:255px;top:130.5px;"><svg width="7" height="9" viewBox="0 0 7 9" fill="none" stroke="#5a49d6" stroke-width="1.6" stroke-linecap="round" stroke-linejoin="round"><path d="M5 1.2L1.8 4.5L5 7.8"/></svg></div>
<div class="a " id="t36" style="top:130.37px;font-size:10.2px;line-height:10.2px;color:#5a49d6;font-weight:400;-webkit-text-stroke:0.28px #5a49d6;letter-spacing:0.445px;left:268px;">All Applications</div>
<div class="a " id="t37" style="top:157.09px;font-size:16.2px;line-height:16.2px;color:#1f1e33;font-weight:400;-webkit-text-stroke:0.6px #1f1e33;letter-spacing:0.380px;left:253.6px;">Tyler Childers, Jason Isbell, Ian Noe</div>
<div class="b" style="left:540px;top:155px;width:51px;height:21px;background:#dcf1e7;border-radius:11px"></div>
<div class="a " id="t38" style="top:161.18px;font-size:9px;line-height:9px;color:#3b9a70;font-weight:400;-webkit-text-stroke:0.28px #3b9a70;letter-spacing:0.395px;text-indent:0.395px;left:539.7px;width:51px;text-align:center;">Accepted</div>
<div class="b" style="left:608.5px;top:150.5px;"><svg width="7" height="5" viewBox="0 0 7 5" fill="none" stroke="#4b9877" stroke-width="1.25" stroke-linecap="round" stroke-linejoin="round"><path d="M1.2 2.4L2.8 3.9L5.9 1"/></svg></div>
<div class="b" style="left:603.4px;top:157.6px;"><svg width="17.2" height="17.2" viewBox="0 0 24 24" fill="none" stroke="#3b9a70" stroke-width="1.9" stroke-linecap="round" stroke-linejoin="round" ><circle cx="9" cy="7" r="4"/><path d="M3 21v-2a4 4 0 0 1 4-4h4a4 4 0 0 1 4 4v2"/><path d="M16 3.13a4 4 0 0 1 0 7.75"/><path d="M21 21v-2a4 4 0 0 0-3-3.85"/></svg></div>
<div class="b" style="left:637.5px;top:150.5px;"><svg width="7" height="5" viewBox="0 0 7 5" fill="none" stroke="#4b9877" stroke-width="1.25" stroke-linecap="round" stroke-linejoin="round"><path d="M1.2 2.4L2.8 3.9L5.9 1"/></svg></div>
<div class="b" style="left:632.4px;top:157.6px;"><svg width="17.2" height="17.2" viewBox="0 0 24 24" fill="none" stroke="#3b9a70" stroke-width="1.9" stroke-linecap="round" stroke-linejoin="round" ><path d="M5 21v-16a2 2 0 0 1 2-2h10a2 2 0 0 1 2 2v16l-3-2l-2 2l-2-2l-2 2l-2-2l-3 2"/><path d="M14 8h-2.5a1.5 1.5 0 0 0 0 3h1a1.5 1.5 0 0 1 0 3h-2.5m2 0v1.5m0-9v1.5"/></svg></div>
<div class="b" style="left:667.5px;top:150.5px;"><svg width="7" height="5" viewBox="0 0 7 5" fill="none" stroke="#4b9877" stroke-width="1.25" stroke-linecap="round" stroke-linejoin="round"><path d="M1.2 2.4L2.8 3.9L5.9 1"/></svg></div>
<div class="b" style="left:662.4px;top:157.6px;"><svg width="17.2" height="17.2" viewBox="0 0 24 24" fill="none" stroke="#3b9a70" stroke-width="1.9" stroke-linecap="round" stroke-linejoin="round" ><path d="M9 5H7a2 2 0 0 0-2 2v12a2 2 0 0 0 2 2h5"/><path d="M17 13V7a2 2 0 0 0-2-2h-2"/><rect x="9" y="3" width="6" height="4" rx="2"/><path d="M9 11h4M9 15h2"/><circle cx="18" cy="18" r="4.2" fill="#3b9a70"/><path d="M18 16v2h1.6" stroke="#fff" stroke-width="1.5"/></svg></div>
<div class="b" style="left:831px;top:154px;width:88px;height:23px;background:#4f37e6;border-radius:3px"></div>
<div class="a " id="t39" style="top:160.53px;font-size:10px;line-height:10px;color:#fff;font-weight:400;-webkit-text-stroke:0.4px #fff;letter-spacing:0.417px;text-indent:0.417px;left:831.1px;width:88px;text-align:center;">Set Up Lease</div>
<div class="b" style="left:931px;top:153.5px;width:135px;height:23.3px;background:#fff;border:1px solid #7366cf;border-radius:3px"></div>
<div class="a " id="t40" style="top:160.53px;font-size:10px;line-height:10px;color:#5646d4;font-weight:400;-webkit-text-stroke:0.5px #5646d4;letter-spacing:0.692px;left:943.2px;">Application Actions</div>
<div class="b" style="left:1046px;top:161.5px;"><svg width="9" height="6" viewBox="0 0 9 6" fill="none" stroke="#4a33db" stroke-width="1.3" stroke-linecap="round" stroke-linejoin="round"><path d="M1.5 1.5L4.5 4.5L7.5 1.5"/></svg></div>
<div class="b" style="left:253.5px;top:192.5px;width:503px;height:227px;border:1px solid #e2e2e8;border-radius:6px;background:#fff;box-shadow:0 1px 2px rgba(0,0,0,.03)"></div>
<div class="a " id="t41" style="top:213.34px;font-size:10px;line-height:10px;color:#1f1e33;font-weight:400;-webkit-text-stroke:0.4px #1f1e33;letter-spacing:0.523px;left:270.9px;">Application Summary</div>
<div class="b" style="left:722.5px;top:209.5px;"><svg width="17" height="17" viewBox="0 0 17 17" fill="none" stroke="#4f3fd6" stroke-width="1.35" stroke-linecap="round" stroke-linejoin="round"><path d="M5 4.8H2.6a1 1 0 0 0-1 1v8.3a1 1 0 0 0 1 1h8.8a1 1 0 0 0 1-1V11.8"/><path d="M6.6 11l.5-2.5 6.3-6.3a1.35 1.35 0 0 1 1.9 1.9l-6.3 6.3z"/></svg></div>
<div class="b" style="left:271px;top:238.5px;width:469px;height:1px;background:#e4e4ea"></div>
<div class="a " id="t42" style="top:249.07px;font-size:10.2px;line-height:10.2px;color:#8a8a9c;font-weight:400;letter-spacing:0.079px;left:282.6px;">Responsible Occupants</div>
<div class="a " style="top:249.07px;font-size:10.2px;line-height:10.2px;color:#1f1e33;font-weight:400;-webkit-text-stroke:0.28px #1f1e33;right:776.5px;text-align:right;">3</div>
<div class="b" style="left:271px;top:268.3px;width:469px;height:1px;background:#e4e4ea"></div>
<div class="a " id="t43" style="top:278.77px;font-size:10.2px;line-height:10.2px;color:#8a8a9c;font-weight:400;letter-spacing:0.142px;left:282.6px;">Other Occupants</div>
<div class="a " style="top:278.77px;font-size:10.2px;line-height:10.2px;color:#1f1e33;font-weight:400;-webkit-text-stroke:0.28px #1f1e33;right:776.5px;text-align:right;">0</div>
<div class="b" style="left:271px;top:297.5px;width:469px;height:1px;background:#e4e4ea"></div>
<div class="a " id="t44" style="top:309.15px;font-size:8.8px;line-height:8.8px;color:#8a8a9c;font-weight:400;letter-spacing:0.165px;left:282.6px;">Guarantors</div>
<div class="a " style="top:309.15px;font-size:8.8px;line-height:8.8px;color:#1f1e33;font-weight:400;-webkit-text-stroke:0.28px #1f1e33;right:776.5px;text-align:right;">0</div>
<div class="b" style="left:271px;top:327.3px;width:469px;height:1px;background:#e4e4ea"></div>
<div class="a " id="t45" style="top:338.67px;font-size:10.2px;line-height:10.2px;color:#8a8a9c;font-weight:400;letter-spacing:0.063px;left:282.6px;">Application Fee</div>
<div class="a " id="t46" style="top:338.67px;font-size:10.2px;line-height:10.2px;color:#1f1e33;font-weight:400;-webkit-text-stroke:0.28px #1f1e33;letter-spacing:0.747px;margin-right:-0.747px;right:776.5px;text-align:right;">$50.00</div>
<div class="b" style="left:271px;top:357.2px;width:469px;height:1px;background:#e4e4ea"></div>
<div class="a " id="t47" style="top:368.17px;font-size:10.2px;line-height:10.2px;color:#8a8a9c;font-weight:400;letter-spacing:0.032px;left:282.6px;">Move in Request</div>
<div class="a " id="t48" style="top:368.17px;font-size:10.2px;line-height:10.2px;color:#1f1e33;font-weight:400;-webkit-text-stroke:0.28px #1f1e33;letter-spacing:0.700px;margin-right:-0.700px;right:776.5px;text-align:right;">02/01/2023</div>
<div class="b" style="left:253.5px;top:437.5px;width:503px;height:284px;border:1px solid #e2e2e8;border-radius:6px;background:#fff"></div>
<div class="a " id="t49" style="top:457.54px;font-size:10px;line-height:10px;color:#1f1e33;font-weight:400;-webkit-text-stroke:0.4px #1f1e33;letter-spacing:0.484px;left:271px;">Listing Info</div>
<div class="b" style="left:271px;top:480.6px;width:469px;height:1px;background:#e4e4ea"></div>
<div class="a " id="t50" style="top:491.77px;font-size:10.2px;line-height:10.2px;color:#8a8a9c;font-weight:400;letter-spacing:0.342px;left:282.1px;">Property</div>
<div class="a " id="t51" style="top:491.77px;font-size:10.2px;line-height:10.2px;color:#1f1e33;font-weight:400;-webkit-text-stroke:0.28px #1f1e33;letter-spacing:0.199px;margin-right:-0.199px;right:776.8px;text-align:right;">1716 Waldon Dr Dallas, TX 78222</div>
<div class="b" style="left:271px;top:509.9px;width:469px;height:1px;background:#e4e4ea"></div>
<div class="a " id="t52" style="top:521.07px;font-size:10.2px;line-height:10.2px;color:#8a8a9c;font-weight:400;letter-spacing:0.624px;left:282.1px;">Unit</div>
<div class="a " style="top:521.07px;font-size:10.2px;line-height:10.2px;color:#1f1e33;font-weight:400;-webkit-text-stroke:0.28px #1f1e33;right:776.8px;text-align:right;">-</div>
<div class="b" style="left:271px;top:539.9px;width:469px;height:1px;background:#e4e4ea"></div>
<div class="a " id="t53" style="top:551.07px;font-size:10.2px;line-height:10.2px;color:#8a8a9c;font-weight:400;letter-spacing:0.624px;left:282.1px;">Sqft</div>
<div class="a " id="t54" style="top:551.07px;font-size:10.2px;line-height:10.2px;color:#1f1e33;font-weight:400;-webkit-text-stroke:0.28px #1f1e33;letter-spacing:0.048px;margin-right:-0.048px;right:776.8px;text-align:right;">1,667</div>
<div class="b" style="left:271px;top:569.5px;width:469px;height:1px;background:#e4e4ea"></div>
<div class="a " id="t55" style="top:580.67px;font-size:10.2px;line-height:10.2px;color:#8a8a9c;font-weight:400;letter-spacing:0.326px;left:282.1px;">Beds</div>
<div class="a " style="top:580.67px;font-size:10.2px;line-height:10.2px;color:#1f1e33;font-weight:400;-webkit-text-stroke:0.28px #1f1e33;right:776.8px;text-align:right;">4</div>
<div class="b" style="left:271px;top:599.5px;width:469px;height:1px;background:#e4e4ea"></div>
<div class="a " id="t56" style="top:610.67px;font-size:10.2px;line-height:10.2px;color:#8a8a9c;font-weight:400;letter-spacing:0.308px;left:282.1px;">Baths</div>
<div class="a " style="top:610.67px;font-size:10.2px;line-height:10.2px;color:#1f1e33;font-weight:400;-webkit-text-stroke:0.28px #1f1e33;right:776.8px;text-align:right;">2</div>
<div class="b" style="left:271px;top:629.5px;width:469px;height:1px;background:#e4e4ea"></div>
<div class="a " id="t57" style="top:640.67px;font-size:10.2px;line-height:10.2px;color:#8a8a9c;font-weight:400;letter-spacing:0.193px;left:282.1px;">Rent</div>
<div class="a " id="t58" style="top:640.67px;font-size:10.2px;line-height:10.2px;color:#1f1e33;font-weight:400;-webkit-text-stroke:0.28px #1f1e33;letter-spacing:0.809px;margin-right:-0.809px;right:776.8px;text-align:right;">$3,400.00</div>
<div class="b" style="left:271px;top:659.5px;width:469px;height:1px;background:#e4e4ea"></div>
<div class="a " id="t59" style="top:670.67px;font-size:10.2px;line-height:10.2px;color:#8a8a9c;font-weight:400;letter-spacing:0.411px;left:282.1px;">Market</div>
<div class="a " id="t60" style="top:670.67px;font-size:10.2px;line-height:10.2px;color:#1f1e33;font-weight:400;-webkit-text-stroke:0.28px #1f1e33;letter-spacing:0.296px;margin-right:-0.296px;right:776.8px;text-align:right;">Dallas</div>
<div class="b" style="left:271px;top:686.4px;width:469px;height:1px;background:#e4e4ea"></div>
<div class="a " id="t61" style="top:697.37px;font-size:10.2px;line-height:10.2px;color:#8a8a9c;font-weight:400;letter-spacing:0.222px;left:282.1px;">Investor</div>
<div class="a " id="t62" style="top:697.37px;font-size:10.2px;line-height:10.2px;color:#1f1e33;font-weight:400;-webkit-text-stroke:0.28px #1f1e33;letter-spacing:0.262px;margin-right:-0.262px;right:776.8px;text-align:right;">Lorem LLC</div>
<div class="b" style="left:253px;top:745px;width:503px;height:1px;background:#e4e4ea"></div>
<div class="b" style="left:253px;top:798.5px;width:503px;height:1px;background:#e4e4ea"></div>
<div class="b" style="left:262px;top:769px;"><svg width="11" height="7" viewBox="0 0 11 7" fill="none" stroke="#6c6c7c" stroke-width="1.4" stroke-linecap="round" stroke-linejoin="round"><path d="M1.5 1.5L5.5 5.5L9.5 1.5"/></svg></div>
<div class="b" style="left:262px;top:822px;"><svg width="11" height="7" viewBox="0 0 11 7" fill="none" stroke="#6c6c7c" stroke-width="1.4" stroke-linecap="round" stroke-linejoin="round"><path d="M1.5 1.5L5.5 5.5L9.5 1.5"/></svg></div>
<div class="a " id="t63" style="top:759.04px;font-size:12px;line-height:12px;color:#1f1e33;font-weight:400;-webkit-text-stroke:0.28px #1f1e33;letter-spacing:0.422px;left:282.5px;">Applicant: Tyler Childers</div>
<div class="b" style="left:427px;top:757.8px;width:43px;height:14px;background:#dcf1e7;border-radius:7px"></div>
<div class="a " id="t64" style="top:761.00px;font-size:7.8px;line-height:7.8px;color:#3b9a70;font-weight:400;-webkit-text-stroke:0.15px #3b9a70;letter-spacing:0.131px;text-indent:0.131px;left:427.0px;width:43px;text-align:center;">Approved</div>
<div class="a " id="t65" style="top:777.77px;font-size:8.9px;line-height:8.9px;color:#9a9aaa;font-weight:400;letter-spacing:0.173px;left:282.5px;">Applying as Responsible Occupant</div>
<div class="a " id="t66" style="top:812.24px;font-size:12px;line-height:12px;color:#1f1e33;font-weight:400;-webkit-text-stroke:0.28px #1f1e33;letter-spacing:0.339px;left:282.5px;">Jason Isbell</div>
<div class="b" style="left:356px;top:811.4px;width:42.5px;height:13px;background:#dcf1e7;border-radius:7px"></div>
<div class="a " id="t67" style="top:814.20px;font-size:7.8px;line-height:7.8px;color:#3b9a70;font-weight:400;-webkit-text-stroke:0.15px #3b9a70;letter-spacing:0.130px;text-indent:0.130px;left:355.95px;width:42.5px;text-align:center;">Approved</div>
<div class="a " id="t68" style="top:830.97px;font-size:8.9px;line-height:8.9px;color:#9a9aaa;font-weight:400;letter-spacing:0.173px;left:282.5px;">Applying as Responsible Occupant</div>
<div class="b" style="left:599.2px;top:757.7px;"><svg width="7" height="5" viewBox="0 0 7 5" fill="none" stroke="#4b9877" stroke-width="1.25" stroke-linecap="round" stroke-linejoin="round"><path d="M1.2 2.4L2.8 3.9L5.9 1"/></svg></div>
<div class="b" style="left:594.1px;top:764.6px;"><svg width="17.2" height="17.2" viewBox="0 0 24 24" fill="none" stroke="#3b9a70" stroke-width="1.9" stroke-linecap="round" stroke-linejoin="round" ><circle cx="12" cy="12" r="9"/><circle cx="12" cy="10" r="3"/><path d="M6.168 18.849a4 4 0 0 1 3.832-2.849h4a4 4 0 0 1 3.834 2.855"/></svg></div>
<div class="b" style="left:625.3px;top:757.7px;"><svg width="7" height="5" viewBox="0 0 7 5" fill="none" stroke="#4b9877" stroke-width="1.25" stroke-linecap="round" stroke-linejoin="round"><path d="M1.2 2.4L2.8 3.9L5.9 1"/></svg></div>
<div class="b" style="left:620.1999999999999px;top:764.6px;"><svg width="17.2" height="17.2" viewBox="0 0 24 24" fill="none" stroke="#3b9a70" stroke-width="1.9" stroke-linecap="round" stroke-linejoin="round" ><path d="M5 21v-16a2 2 0 0 1 2-2h10a2 2 0 0 1 2 2v16l-3-2l-2 2l-2-2l-2 2l-2-2l-3 2"/><path d="M14 8h-2.5a1.5 1.5 0 0 0 0 3h1a1.5 1.5 0 0 1 0 3h-2.5m2 0v1.5m0-9v1.5"/></svg></div>
<div class="b" style="left:651.7px;top:757.7px;"><svg width="7" height="5" viewBox="0 0 7 5" fill="none" stroke="#4b9877" stroke-width="1.25" stroke-linecap="round" stroke-linejoin="round"><path d="M1.2 2.4L2.8 3.9L5.9 1"/></svg></div>
<div class="b" style="left:646.6px;top:764.6px;"><svg width="17.2" height="17.2" viewBox="0 0 24 24" fill="none" stroke="#3b9a70" stroke-width="1.9" stroke-linecap="round" stroke-linejoin="round" ><path d="M12 8v4l2 2"/><path d="M3.05 11a9 9 0 1 1 .5 4m-.5 5v-5h5"/></svg></div>
<div class="b" style="left:677.8px;top:757.7px;"><svg width="7" height="5" viewBox="0 0 7 5" fill="none" stroke="#4b9877" stroke-width="1.25" stroke-linecap="round" stroke-linejoin="round"><path d="M1.2 2.4L2.8 3.9L5.9 1"/></svg></div>
<div class="b" style="left:672.6999999999999px;top:764.6px;"><svg width="17.2" height="17.2" viewBox="0 0 24 24" fill="none" stroke="#3b9a70" stroke-width="1.9" stroke-linecap="round" stroke-linejoin="round" ><circle cx="7" cy="17" r="2"/><circle cx="17" cy="17" r="2"/><path d="M5 17h-2v-6l2-5h9l4 5h1a2 2 0 0 1 2 2v4h-2m-4 0h-6m-6-6h15m-6 0v-5"/></svg></div>
<div class="b" style="left:704.3px;top:757.7px;"><svg width="7" height="5" viewBox="0 0 7 5" fill="none" stroke="#4b9877" stroke-width="1.25" stroke-linecap="round" stroke-linejoin="round"><path d="M1.2 2.4L2.8 3.9L5.9 1"/></svg></div>
<div class="b" style="left:699.1999999999999px;top:764.6px;"><svg width="17.2" height="17.2" viewBox="0 0 24 24" fill="none" stroke="#3b9a70" stroke-width="1.9" stroke-linecap="round" stroke-linejoin="round" ><path d="M3 17h18v3H3z"/><path d="M7 17v-3M17 17v-3"/><path d="M4.5 11.5a2.8 2.8 0 0 1 1-4.8 2.2 2.2 0 0 1 3.6 0 2.8 2.8 0 0 1 1 4.8c-.6.8-1.5 1.3-2.8 1.3s-2.2-.5-2.8-1.3z"/><path d="M14.5 11.5a2.8 2.8 0 0 1 1-4.8 2.2 2.2 0 0 1 3.6 0 2.8 2.8 0 0 1 1 4.8c-.6.8-1.5 1.3-2.8 1.3s-2.2-.5-2.8-1.3z"/></svg></div>
<div class="b" style="left:727px;top:767.4px;"><svg width="15" height="4" viewBox="0 0 15 4" fill="#4f3fd0"><circle cx="1.8" cy="2" r="1.6"/><circle cx="7.7" cy="2" r="1.6"/><circle cx="13.5" cy="2" r="1.6"/></svg></div>
<div class="b" style="left:651.7px;top:811.3000000000001px;"><svg width="7" height="5" viewBox="0 0 7 5" fill="none" stroke="#4b9877" stroke-width="1.25" stroke-linecap="round" stroke-linejoin="round"><path d="M1.2 2.4L2.8 3.9L5.9 1"/></svg></div>
<div class="b" style="left:646.6px;top:818.2px;"><svg width="17.2" height="17.2" viewBox="0 0 24 24" fill="none" stroke="#3b9a70" stroke-width="1.9" stroke-linecap="round" stroke-linejoin="round" ><circle cx="12" cy="12" r="9"/><circle cx="12" cy="10" r="3"/><path d="M6.168 18.849a4 4 0 0 1 3.832-2.849h4a4 4 0 0 1 3.834 2.855"/></svg></div>
<div class="b" style="left:677.8px;top:811.3000000000001px;"><svg width="7" height="5" viewBox="0 0 7 5" fill="none" stroke="#4b9877" stroke-width="1.25" stroke-linecap="round" stroke-linejoin="round"><path d="M1.2 2.4L2.8 3.9L5.9 1"/></svg></div>
<div class="b" style="left:672.6999999999999px;top:818.2px;"><svg width="17.2" height="17.2" viewBox="0 0 24 24" fill="none" stroke="#3b9a70" stroke-width="1.9" stroke-linecap="round" stroke-linejoin="round" ><path d="M5 21v-16a2 2 0 0 1 2-2h10a2 2 0 0 1 2 2v16l-3-2l-2 2l-2-2l-2 2l-2-2l-3 2"/><path d="M14 8h-2.5a1.5 1.5 0 0 0 0 3h1a1.5 1.5 0 0 1 0 3h-2.5m2 0v1.5m0-9v1.5"/></svg></div>
<div class="b" style="left:704.3px;top:811.3000000000001px;"><svg width="7" height="5" viewBox="0 0 7 5" fill="none" stroke="#4b9877" stroke-width="1.25" stroke-linecap="round" stroke-linejoin="round"><path d="M1.2 2.4L2.8 3.9L5.9 1"/></svg></div>
<div class="b" style="left:699.1999999999999px;top:818.2px;"><svg width="17.2" height="17.2" viewBox="0 0 24 24" fill="none" stroke="#3b9a70" stroke-width="1.9" stroke-linecap="round" stroke-linejoin="round" ><circle cx="7" cy="17" r="2"/><circle cx="17" cy="17" r="2"/><path d="M5 17h-2v-6l2-5h9l4 5h1a2 2 0 0 1 2 2v4h-2m-4 0h-6m-6-6h15m-6 0v-5"/></svg></div>
<div class="b" style="left:727px;top:821.0px;"><svg width="15" height="4" viewBox="0 0 15 4" fill="#4f3fd0"><circle cx="1.8" cy="2" r="1.6"/><circle cx="7.7" cy="2" r="1.6"/><circle cx="13.5" cy="2" r="1.6"/></svg></div>
<div class="b" style="left:236px;top:839.5px;width:845px;height:9.5px;background:#fff"></div>
<div class="b" style="left:775px;top:192.5px;width:291px;height:639px;border:1px solid #e2e2e8;border-radius:6px;background:#fff"></div>
<div class="b" style="left:776px;top:227px;width:289px;height:1px;background:#e2e2e8"></div>
<div class="b" style="left:786px;top:225.2px;width:89.5px;height:1.9px;background:#5a49d6"></div>
<div class="b" style="left:794px;top:211px;"><svg width="13" height="13" viewBox="0 0 13 13" fill="none" stroke="#5a49d6" stroke-width="1.3" stroke-linecap="round" stroke-linejoin="round"><path d="M2.5 1.5h8a1 1 0 0 1 1 1v6a1 1 0 0 1-1 1H6L3.5 11.5V9.5h-1a1 1 0 0 1-1-1v-6a1 1 0 0 1 1-1z"/><path d="M4 4.5h5M4 6.8h3.5"/></svg></div>
<div class="a " id="t69" style="top:212.63px;font-size:10px;line-height:10px;color:#5a49d6;font-weight:400;-webkit-text-stroke:0.28px #5a49d6;letter-spacing:0.574px;left:811px;">Messages</div>
<div class="b" style="left:864px;top:214.8px;width:4.4px;height:4.4px;background:#ee6478;border-radius:50%"></div>
<div class="b" style="left:897px;top:210.5px;"><svg width="13" height="13" viewBox="0 0 13 13" fill="none" stroke="#6c6c7c" stroke-width="1.3" stroke-linecap="round" stroke-linejoin="round"><path d="M7.5 11.5H2.5a1 1 0 0 1-1-1v-8a1 1 0 0 1 1-1h8a1 1 0 0 1 1 1v5z"/><path d="M7.5 11.5v-3a1 1 0 0 1 1-1h3"/></svg></div>
<div class="a " id="t70" style="top:212.63px;font-size:10px;line-height:10px;color:#6c6c7c;font-weight:400;-webkit-text-stroke:0.28px #6c6c7c;letter-spacing:0.694px;left:916px;">Notes</div>
<div class="b" style="left:983px;top:210.2px;"><svg width="13.5" height="13.5" viewBox="0 0 24 24" fill="none" stroke="#6c6c7c" stroke-width="2.1" stroke-linecap="round" stroke-linejoin="round"><path d="M12 8v4l2 2"/><path d="M3.05 11a9 9 0 1 1 .5 4m-.5 5v-5h5"/></svg></div>
<div class="a " id="t71" style="top:212.63px;font-size:10px;line-height:10px;color:#6c6c7c;font-weight:400;-webkit-text-stroke:0.28px #6c6c7c;letter-spacing:0.780px;left:1000px;">History</div>
<div class="a " id="t72" style="top:239.97px;font-size:11.5px;line-height:11.5px;color:#1f1e33;font-weight:400;-webkit-text-stroke:0.28px #1f1e33;letter-spacing:0.707px;left:786.2px;">All Applicants</div>
<div class="a " id="t73" style="top:259.15px;font-size:8.8px;line-height:8.8px;color:#6c6c7c;font-weight:400;letter-spacing:0.387px;left:786.2px;">04/20/2023 5:12PM</div>
<div class="b" style="left:786.5px;top:278.2px;"><svg width="8" height="6" viewBox="0 0 8 6" fill="none" stroke="#6c6c7c" stroke-width="0.9" stroke-linecap="round" stroke-linejoin="round"><path d="M2.5 .8L.8 2.3 2.5 3.8"/><path d="M.8 2.3h4.5a1.6 1.6 0 0 1 0 3.2H4"/></svg></div>
<div class="a " id="t74" style="top:276.55px;font-size:8.8px;line-height:8.8px;color:#5c5c6c;font-weight:400;letter-spacing:0.206px;left:798.1px;">Lorem ipsum dolor sit amet, cons...</div>
<div class="b" style="left:786px;top:308.6px;width:9.5px;height:9.5px;background:#ee6b7a;border-radius:50%"></div>
<div class="a " id="t75" style="top:308.47px;font-size:11.5px;line-height:11.5px;color:#1f1e33;font-weight:400;-webkit-text-stroke:0.28px #1f1e33;letter-spacing:0.676px;left:800.6px;">Tyler Childers</div>
<div class="a " id="t76" style="top:327.65px;font-size:8.8px;line-height:8.8px;color:#6c6c7c;font-weight:400;letter-spacing:0.388px;left:786.2px;">04/20/2023 3:12PM</div>
<div class="a " id="t77" style="top:345.05px;font-size:8.8px;line-height:8.8px;color:#5c5c6c;font-weight:400;letter-spacing:0.255px;left:786.2px;">Lorem ipsum dolor sit amet, consectet...</div>
<div class="a " id="t78" style="top:376.97px;font-size:11.5px;line-height:11.5px;color:#1f1e33;font-weight:400;-webkit-text-stroke:0.28px #1f1e33;letter-spacing:0.616px;left:786.2px;">Jason Isbell</div>
<div class="a " id="t79" style="top:396.15px;font-size:8.8px;line-height:8.8px;color:#6c6c7c;font-weight:400;letter-spacing:0.388px;left:786.2px;">04/20/2023 1:34PM</div>
<div class="b" style="left:786.5px;top:415.2px;"><svg width="8" height="6" viewBox="0 0 8 6" fill="none" stroke="#6c6c7c" stroke-width="0.9" stroke-linecap="round" stroke-linejoin="round"><path d="M2.5 .8L.8 2.3 2.5 3.8"/><path d="M.8 2.3h4.5a1.6 1.6 0 0 1 0 3.2H4"/></svg></div>
<div class="a " id="t80" style="top:413.55px;font-size:8.8px;line-height:8.8px;color:#5c5c6c;font-weight:400;letter-spacing:0.206px;left:798.1px;">Lorem ipsum dolor sit amet, cons...</div>
<div class="a " id="t81" style="top:445.47px;font-size:11.5px;line-height:11.5px;color:#1f1e33;font-weight:400;-webkit-text-stroke:0.28px #1f1e33;letter-spacing:0.519px;left:786.2px;">Ian Noe</div>
<div class="a " id="t82" style="top:464.65px;font-size:8.8px;line-height:8.8px;color:#6c6c7c;font-weight:400;letter-spacing:0.291px;left:786.2px;">No Messages</div>
<div class="b" style="left:776px;top:295.8px;width:289px;height:1px;background:#e4e4ea"></div>
<div class="b" style="left:776px;top:364px;width:289px;height:1px;background:#e4e4ea"></div>
<div class="b" style="left:776px;top:432.3px;width:289px;height:1px;background:#e4e4ea"></div>
<div class="b" style="left:776px;top:483.5px;width:289px;height:1px;background:#e4e4ea"></div>
<div class="b" style="left:1068px;top:111px;width:14px;height:738px;background:linear-gradient(to right, rgba(0,0,0,0), rgba(0,0,20,.022))"></div>
<div class="b" style="left:1082px;top:111px;width:430px;height:734px;background:#fff;border-left:1px solid #ececf0;box-shadow:0 2px 3px rgba(0,0,0,.12)"></div>
<div class="a " id="t83" style="top:129.35px;font-size:8.8px;line-height:8.8px;color:#55556a;font-weight:400;letter-spacing:0.186px;left:1100.8px;">SET UP LEASE</div>
<div class="a " id="t84" style="top:145.48px;font-size:15.5px;line-height:15.5px;color:#1f1e33;font-weight:400;-webkit-text-stroke:0.6px #1f1e33;letter-spacing:0.542px;left:1100.9px;">Lease For 1716 Waldon Dr</div>
<div class="a " id="t85" style="top:168.44px;font-size:10px;line-height:10px;color:#44445a;font-weight:400;letter-spacing:0.187px;left:1100.8px;">Confirm lease details below to create the Lease. Open Lease page to send document.</div>
<div class="a " id="t86" style="top:194.75px;font-size:8.8px;line-height:8.8px;color:#44445a;font-weight:400;letter-spacing:0.267px;left:1100.8px;">Lease Term</div>
<div class="b" style="left:1100.6000000000001px;top:212.4px;width:11.6px;height:11.6px;border:1px solid #ebebef;border-radius:50%;background:#fff"></div>
<div class="a " id="t87" style="top:213.97px;font-size:10.2px;line-height:10.2px;color:#2b2a3c;font-weight:400;-webkit-text-stroke:0.28px #2b2a3c;letter-spacing:0.611px;left:1119.8px;">6 Months</div>
<div class="b" style="left:1178.0px;top:212.4px;width:11.6px;height:11.6px;border:3.3px solid #4b38d8;border-radius:50%;background:#fff"></div>
<div class="a " id="t88" style="top:213.97px;font-size:10.2px;line-height:10.2px;color:#2b2a3c;font-weight:400;-webkit-text-stroke:0.28px #2b2a3c;letter-spacing:0.415px;left:1197px;">12 Months</div>
<div class="b" style="left:1259.5px;top:212.4px;width:11.6px;height:11.6px;border:1px solid #ebebef;border-radius:50%;background:#fff"></div>
<div class="a " id="t89" style="top:213.97px;font-size:10.2px;line-height:10.2px;color:#2b2a3c;font-weight:400;-webkit-text-stroke:0.28px #2b2a3c;letter-spacing:0.415px;left:1278.8px;">18 Months</div>
<div class="b" style="left:1341.0px;top:212.4px;width:11.6px;height:11.6px;border:1px solid #ebebef;border-radius:50%;background:#fff"></div>
<div class="a " id="t90" style="top:213.97px;font-size:10.2px;line-height:10.2px;color:#2b2a3c;font-weight:400;-webkit-text-stroke:0.28px #2b2a3c;letter-spacing:0.577px;left:1360.2px;">Month to Month</div>
<div class="b" style="left:1450.2px;top:212.4px;width:11.6px;height:11.6px;border:1px solid #ebebef;border-radius:50%;background:#fff"></div>
<div class="a " style="top:213.97px;font-size:10.2px;line-height:10.2px;color:#2b2a3c;font-weight:400;-webkit-text-stroke:0.28px #2b2a3c;left:1469.3px;">Custom</div>
<div class="a " id="t91" style="top:239.85px;font-size:8.8px;line-height:8.8px;color:#44445a;font-weight:400;letter-spacing:0.342px;left:1100.8px;">Start Date</div>
<div class="b" style="left:1100.3px;top:253.4px;width:420px;height:29px;border:1px solid #e4e4ea;border-radius:3.5px;background:#fff"></div>
<div class="b" style="left:1110.5px;top:262.9px;"><svg width="10" height="10" viewBox="0 0 10 10" fill="none" stroke="#8a8a9c" stroke-width="1" stroke-linecap="round" stroke-linejoin="round"><rect x="1" y="1.8" width="8" height="7.4" rx="1"/><path d="M1 4.2h8M3.2 .8v2M6.8 .8v2M4.2 6.5h1.5"/></svg></div>
<div class="a " id="t92" style="top:262.91px;font-size:10.5px;line-height:10.5px;color:#1f1e33;font-weight:400;-webkit-text-stroke:0.28px #1f1e33;letter-spacing:0.383px;left:1126.8px;">01/01/2025</div>
<div class="a " id="t93" style="top:296.45px;font-size:8.8px;line-height:8.8px;color:#44445a;font-weight:400;letter-spacing:0.342px;left:1100.8px;">Start Date</div>
<div class="b" style="left:1100.3px;top:310px;width:420px;height:29px;border:1px solid #e4e4ea;border-radius:3.5px;background:#f3f3f6"></div>
<div class="b" style="left:1110.5px;top:319.5px;"><svg width="10" height="10" viewBox="0 0 10 10" fill="none" stroke="#8a8a9c" stroke-width="1" stroke-linecap="round" stroke-linejoin="round"><rect x="1" y="1.8" width="8" height="7.4" rx="1"/><path d="M1 4.2h8M3.2 .8v2M6.8 .8v2M4.2 6.5h1.5"/></svg></div>
<div class="a " id="t94" style="top:319.51px;font-size:10.5px;line-height:10.5px;color:#9a9aaa;font-weight:400;-webkit-text-stroke:0.28px #9a9aaa;letter-spacing:0.382px;left:1126.8px;">12/31/2025</div>
<div class="a " id="t95" style="top:353.65px;font-size:8.8px;line-height:8.8px;color:#44445a;font-weight:400;letter-spacing:0.417px;left:1100.8px;">Amount</div>
<div class="b" style="left:1100.3px;top:367.2px;width:420px;height:29px;border:1px solid #e4e4ea;border-radius:3.5px;background:#fff"></div>
<div class="a " style="top:377.13px;font-size:10px;line-height:10px;color:#8a8a9c;font-weight:400;left:1112px;">$</div>
<div class="a " id="t96" style="top:376.97px;font-size:10.2px;line-height:10.2px;color:#1f1e33;font-weight:400;-webkit-text-stroke:0.28px #1f1e33;letter-spacing:0.691px;margin-right:-0.691px;right:4.7999999999999545px;text-align:right;">2,300.00</div>
<div class="a " id="t97" style="top:436.65px;font-size:8.8px;line-height:8.8px;color:#44445a;font-weight:400;letter-spacing:0.245px;left:1100.8px;">Rent Security Deposit</div>
<div class="b" style="left:1100.3px;top:450.2px;width:420px;height:29px;border:1px solid #e4e4ea;border-radius:3.5px;background:#fff"></div>
<div class="a " style="top:460.13px;font-size:10px;line-height:10px;color:#8a8a9c;font-weight:400;left:1112px;">$</div>
<div class="a " id="t98" style="top:459.97px;font-size:10.2px;line-height:10.2px;color:#1f1e33;font-weight:400;-webkit-text-stroke:0.28px #1f1e33;letter-spacing:0.691px;margin-right:-0.691px;right:4.7999999999999545px;text-align:right;">2,300.00</div>
<div class="a " id="t99" style="top:493.45px;font-size:8.8px;line-height:8.8px;color:#44445a;font-weight:400;letter-spacing:0.247px;left:1100.8px;">Pet Security Deposit</div>
<div class="b" style="left:1100.3px;top:507px;width:420px;height:29px;border:1px solid #e4e4ea;border-radius:3.5px;background:#fff"></div>
<div class="a " style="top:516.93px;font-size:10px;line-height:10px;color:#8a8a9c;font-weight:400;left:1112px;">$</div>
<div class="a " id="t100" style="top:516.77px;font-size:10.2px;line-height:10.2px;color:#1f1e33;font-weight:400;-webkit-text-stroke:0.28px #1f1e33;letter-spacing:0.692px;margin-right:-0.692px;right:4.7999999999999545px;text-align:right;">2,300.00</div>
<div class="a " id="t101" style="top:550.45px;font-size:8.8px;line-height:8.8px;color:#44445a;font-weight:400;letter-spacing:0.182px;left:1100.8px;">Late Fee</div>
<div class="b" style="left:1100.3px;top:564px;width:420px;height:29px;border:1px solid #e4e4ea;border-radius:3.5px;background:#fff"></div>
<div class="a " style="top:573.93px;font-size:10px;line-height:10px;color:#8a8a9c;font-weight:400;left:1112px;">$</div>
<div class="a " id="t102" style="top:573.77px;font-size:10.2px;line-height:10.2px;color:#1f1e33;font-weight:400;-webkit-text-stroke:0.28px #1f1e33;letter-spacing:0.727px;margin-right:-0.727px;right:4.7999999999999545px;text-align:right;">50.00</div>
<div class="a " id="t103" style="top:607.45px;font-size:8.8px;line-height:8.8px;color:#44445a;font-weight:400;letter-spacing:0.203px;left:1100.8px;">First Payment Due</div>
<div class="b" style="left:1100.3px;top:621px;width:420px;height:29px;border:1px solid #e4e4ea;border-radius:3.5px;background:#fff"></div>
<div class="b" style="left:1110.5px;top:630.5px;"><svg width="10" height="10" viewBox="0 0 10 10" fill="none" stroke="#8a8a9c" stroke-width="1" stroke-linecap="round" stroke-linejoin="round"><rect x="1" y="1.8" width="8" height="7.4" rx="1"/><path d="M1 4.2h8M3.2 .8v2M6.8 .8v2M4.2 6.5h1.5"/></svg></div>
<div class="a " id="t104" style="top:630.51px;font-size:10.5px;line-height:10.5px;color:#1f1e33;font-weight:400;-webkit-text-stroke:0.28px #1f1e33;letter-spacing:0.382px;left:1126.8px;">01/01/2025</div>
<div class="a " id="t105" style="top:663.75px;font-size:8.8px;line-height:8.8px;color:#44445a;font-weight:400;letter-spacing:0.205px;left:1100.8px;">Grace Period</div>
<div class="b" style="left:1100.3px;top:677.3px;width:420px;height:29px;border:1px solid #e4e4ea;border-radius:3.5px;background:#fff"></div>
<div class="a " style="top:686.81px;font-size:10.5px;line-height:10.5px;color:#1f1e33;font-weight:400;-webkit-text-stroke:0.28px #1f1e33;left:1110px;">3</div>
<div class="b" style="left:1489.6px;top:687.5px;"><svg width="8" height="8" viewBox="0 0 8 8" fill="none" stroke="#7c7c8c" stroke-width="1.15" stroke-linecap="round"><path d="M1 1L7 7M7 1L1 7"/></svg></div>
<div class="a " id="t106" style="top:720.25px;font-size:8.8px;line-height:8.8px;color:#44445a;font-weight:400;letter-spacing:-0.017px;left:1100.8px;">NSF Fee</div>
<div class="b" style="left:1100.3px;top:733.8px;width:420px;height:29px;border:1px solid #e4e4ea;border-radius:3.5px;background:#fff"></div>
<div class="a " style="top:743.73px;font-size:10px;line-height:10px;color:#8a8a9c;font-weight:400;left:1112px;">$</div>
<div class="a " id="t107" style="top:743.57px;font-size:10.2px;line-height:10.2px;color:#1f1e33;font-weight:400;-webkit-text-stroke:0.28px #1f1e33;letter-spacing:0.723px;margin-right:-0.723px;right:4.7999999999999545px;text-align:right;">25.00</div>
<div class="b" style="left:1100.3px;top:408.4px;width:28px;height:13.5px;background:#d9d9e3;border-radius:7px"></div>
<div class="b" style="left:1101.3px;top:409.4px;width:11.5px;height:11.5px;background:#fff;border-radius:50%;box-shadow:0 0 1px rgba(0,0,0,.3)"></div>
<div class="a " id="t108" style="top:410.57px;font-size:10.2px;line-height:10.2px;color:#2b2a3c;font-weight:400;-webkit-text-stroke:0.28px #2b2a3c;letter-spacing:0.344px;left:1134.6px;">Deposits Held Externally</div>
<div class="a " id="t109" style="top:782.27px;font-size:10.2px;line-height:10.2px;color:#5646d4;font-weight:400;-webkit-text-stroke:0.5px #5646d4;letter-spacing:0.617px;left:1195px;">Cancel</div>
<div class="b" style="left:1236.8px;top:775px;width:103px;height:22.5px;border:1px solid #7366cf;border-radius:3px;background:#fff"></div>
<div class="a " id="t110" style="top:782.27px;font-size:10.2px;line-height:10.2px;color:#5646d4;font-weight:400;-webkit-text-stroke:0.5px #5646d4;letter-spacing:0.409px;text-indent:0.409px;left:1236.85px;width:103px;text-align:center;">Confirm &amp; Close</div>
<div class="b" style="left:1347.7px;top:775px;width:160px;height:22.5px;background:#4f37e6;border-radius:3px"></div>
<div class="a " id="t111" style="top:782.27px;font-size:10.2px;line-height:10.2px;color:#fff;font-weight:400;-webkit-text-stroke:0.4px #fff;letter-spacing:0.314px;left:1359.4px;">Confirm &amp; Open Lease Page</div>
<div class="b" style="left:0px;top:0px;width:7px;height:7px;background:radial-gradient(circle at 7px 7px, rgba(0,0,0,0) 5px, rgba(180,170,255,.7) 5.8px, #0a0628 7.6px);z-index:50"></div>
<div class="b" style="left:1497px;top:853px;width:7px;height:7px;background:radial-gradient(circle at 0px 0px, rgba(0,0,0,0) 5px, rgba(180,170,255,.7) 5.8px, #0a0628 7.6px);z-index:50"></div></div></body></html>
